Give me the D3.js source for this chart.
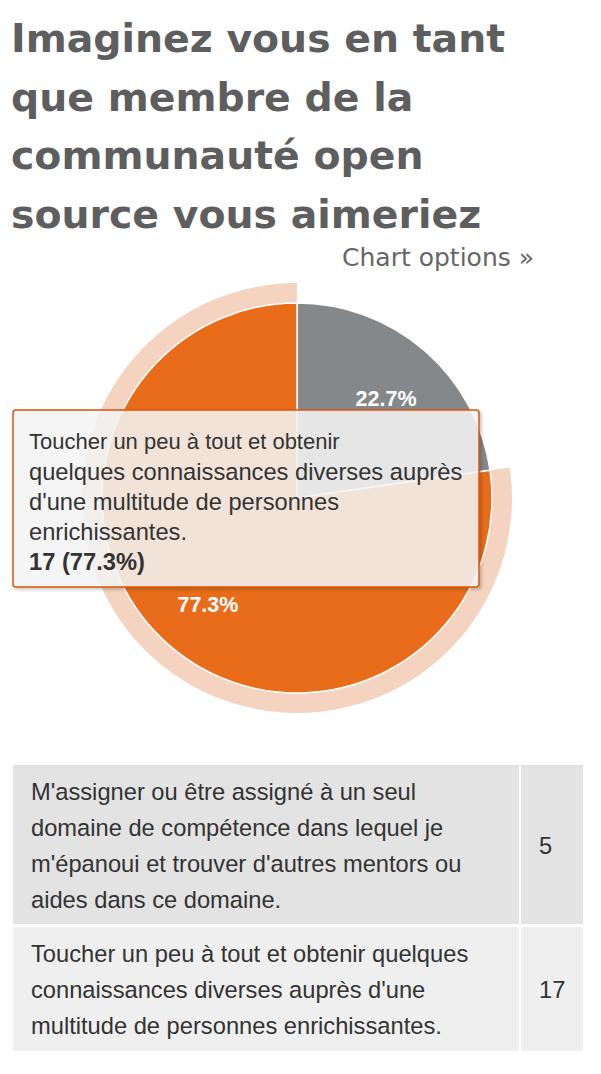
<!DOCTYPE html>
<html>
<head>
<meta charset="utf-8">
<script src="https://cdn.jsdelivr.net/npm/d3@7"></script>
<style>
  html, body { margin: 0; padding: 0; background: #fff; }
  svg { display: block; }
</style>
</head>
<body>
<div id="chart"></div>
<script>
// ---- data ----
const titleLines = ["Imaginez vous en tant", "que membre de la", "communauté open", "source vous aimeriez"];
const categories = [
  "M'assigner ou être assigné à un seul domaine de compétence dans lequel je m'épanoui et trouver d'autres mentors ou aides dans ce domaine.",
  "Toucher un peu à tout et obtenir quelques connaissances diverses auprès d'une multitude de personnes enrichissantes."
];
const values = [5, 17];
const colors = ["#85888b", "#e96c1b"];
// display line breaks (layout)
const tableLines = [
  ["M'assigner ou être assigné à un seul", "domaine de compétence dans lequel je", "m'épanoui et trouver d'autres mentors ou", "aides dans ce domaine."],
  ["Toucher un peu à tout et obtenir quelques", "connaissances diverses auprès d'une", "multitude de personnes enrichissantes."]
];
const tooltipHeader = "Toucher un peu à tout et obtenir";
const tooltipBody = ["quelques connaissances diverses auprès", "d'une multitude de personnes", "enrichissantes."];
const hovered = 1;

const W = 601, H = 1074;
const svg = d3.select("#chart").append("svg").attr("width", W).attr("height", H);

// shadow filter
const defs = svg.append("defs");
const f = defs.append("filter").attr("id", "shadow").attr("x", "-5%").attr("y", "-5%").attr("width", "115%").attr("height", "120%");
f.append("feDropShadow").attr("dx", 2).attr("dy", 2).attr("stdDeviation", 1.6).attr("flood-color", "#000").attr("flood-opacity", 0.22);

// title
const title = svg.append("g");
titleLines.forEach((t, i) => {
  title.append("text").attr("x", 11).attr("y", 52 + i * 58.5)
    .attr("font-family", "DejaVu Sans").attr("font-weight", "bold").attr("font-size", 39.4)
    .attr("fill", "#5e5e5e").text(t);
});
svg.append("text").attr("x", 534).attr("y", 266).attr("text-anchor", "end")
  .attr("font-family", "DejaVu Sans").attr("font-size", 25).attr("fill", "#666").text("Chart options »");

// pie
const cx = 297, cy = 498, R = 195;
const total = d3.sum(values);
const pie = d3.pie().sort(null).value(d => d)(values);
const arc = d3.arc().innerRadius(0).outerRadius(R);
const halo = d3.arc().innerRadius(R).outerRadius(R + 20);
const g = svg.append("g").attr("transform", `translate(${cx},${cy})`);
g.append("path").attr("d", halo(pie[hovered])).attr("fill", "#f4d4c0");
g.selectAll("path.slice").data(pie).join("path").attr("class", "slice")
  .attr("d", arc).attr("fill", (d, i) => colors[i]).attr("stroke", "#fff").attr("stroke-width", 1.5)
  .attr("stroke-linejoin", "round");
const labelArc = d3.arc().innerRadius(R - 59).outerRadius(R - 59);
g.selectAll("text.lbl").data(pie).join("text").attr("class", "lbl")
  .attr("transform", d => `translate(${labelArc.centroid(d)})`)
  .attr("text-anchor", "middle").attr("dy", "0.5em")
  .attr("font-family", "Liberation Sans").attr("font-weight", "bold").attr("font-size", 21.5)
  .attr("fill", "#fff").text(d => (d.value / total * 100).toFixed(1) + "%");

// tooltip
const tt = svg.append("g").attr("transform", "translate(13,410)");
tt.append("rect").attr("width", 466).attr("height", 177).attr("rx", 3)
  .attr("fill", "rgba(247,247,247,0.85)").attr("stroke", "#d9560c").attr("stroke-width", 1.5)
  .attr("filter", "url(#shadow)");
tt.append("text").attr("x", 16).attr("y", 39).attr("font-family", "Liberation Sans").attr("font-size", 22)
  .attr("fill", "#333").text(tooltipHeader);
tooltipBody.forEach((t, i) => {
  tt.append("text").attr("x", 16).attr("y", 70 + i * 30).attr("font-family", "Liberation Sans").attr("font-size", 23.7)
    .attr("fill", "#333").text(t);
});
tt.append("text").attr("x", 16).attr("y", 70 + 3 * 30).attr("font-family", "Liberation Sans").attr("font-size", 23.7)
  .attr("font-weight", "bold").attr("fill", "#333")
  .text(values[hovered] + " (" + (values[hovered] / total * 100).toFixed(1) + "%)");

// table
const rowTops = [765, 927];
const rowHeights = [159, 124];
const rowFill = ["#e3e3e3", "#efefef"];
const tbl = svg.append("g");
categories.forEach((c, i) => {
  const y0 = rowTops[i], h = rowHeights[i];
  tbl.append("rect").attr("x", 13).attr("y", y0).attr("width", 506).attr("height", h).attr("fill", rowFill[i]);
  tbl.append("rect").attr("x", 521).attr("y", y0).attr("width", 62).attr("height", h).attr("fill", rowFill[i]);
  const lines = tableLines[i];
  const n = lines.length, lh = 36;
  const firstBase = y0 + h / 2 - (n - 1) * lh / 2 + 9;
  lines.forEach((t, j) => {
    tbl.append("text").attr("x", 31).attr("y", firstBase + j * lh).attr("font-family", "Liberation Sans")
      .attr("font-size", 23.7).attr("fill", "#333").text(t);
  });
  tbl.append("text").attr("x", 539).attr("y", y0 + h / 2 + 9).attr("font-family", "Liberation Sans")
    .attr("font-size", 23.7).attr("fill", "#333").text(values[i]);
});
</script>
</body>
</html>
